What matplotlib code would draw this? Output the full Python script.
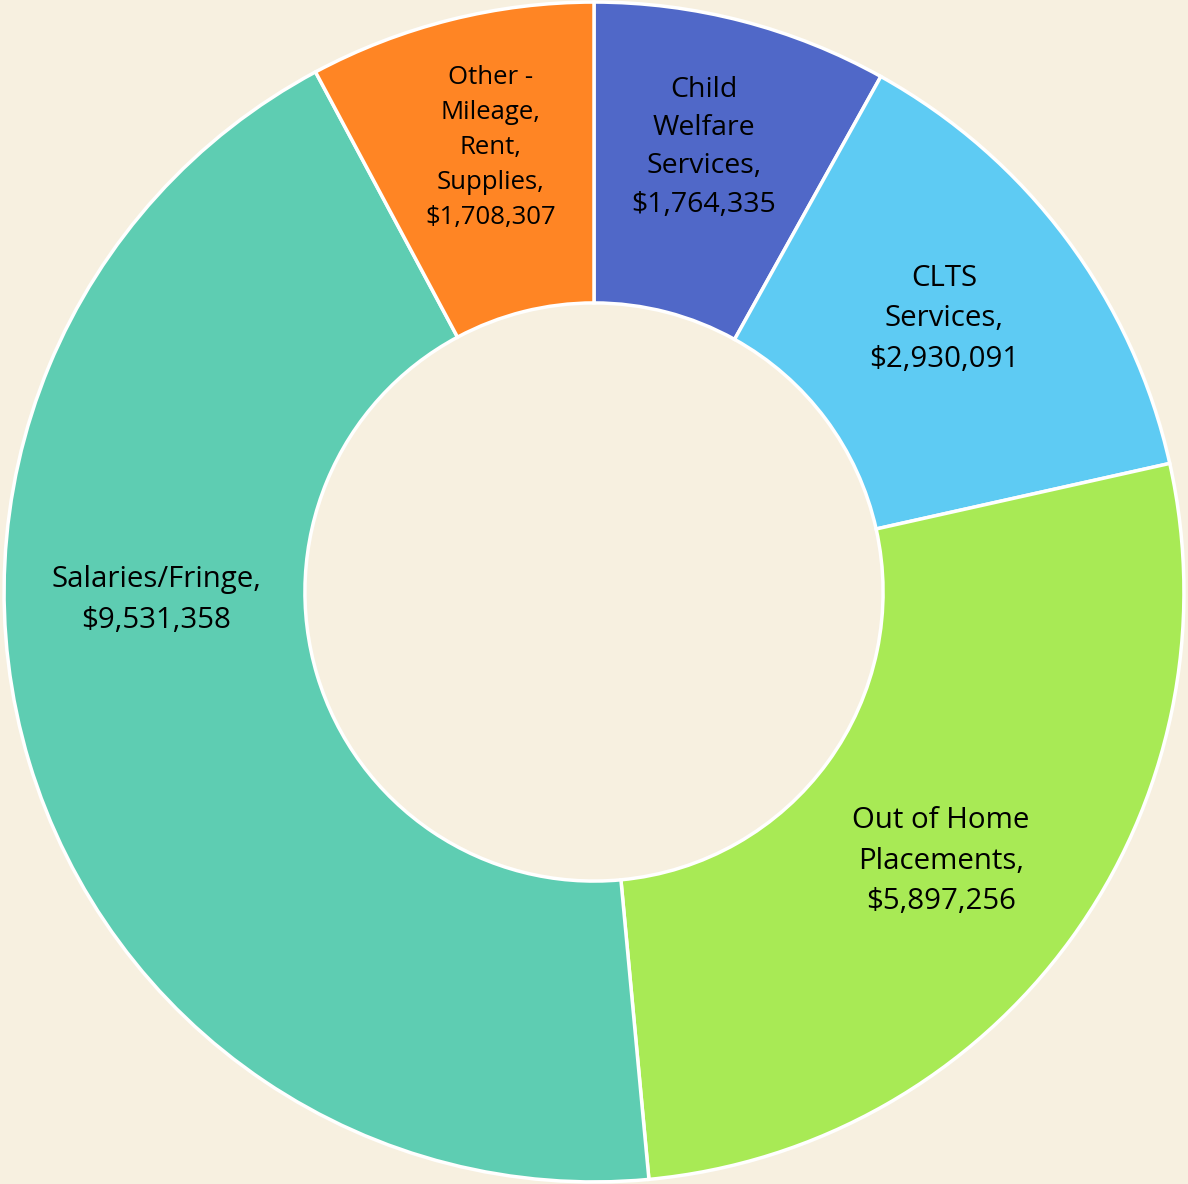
import matplotlib

matplotlib.use("Agg")
import matplotlib.pyplot as plt

categories = ["Child\nWelfare\nServices,", "CLTS\nServices,", "Out of Home\nPlacements,",
              "Salaries/Fringe,", "Other -\nMileage,\nRent,\nSupplies,"]
amounts = [1764335, 2930091, 5897256, 9531358, 1708307]
colors = ["#5068C8", "#5ECBF3", "#A8EA55", "#5ECDB2", "#FF8524"]

# label anchor points (fraction of outer radius), as placed in the original
label_x = [0.186, 0.593, 0.588, -0.742, -0.175]
label_y = [0.754, 0.463, -0.456, -0.014, 0.753]
font_sizes = [20.5, 21.2, 21.2, 21.2, 18.5]
line_gaps = [1.49, 1.53, 1.53, 1.53, 1.53]

bg = "#F7F0E0"
plt.rcParams["font.family"] = ["Open Sans", "DejaVu Sans"]

fig = plt.figure(figsize=(11.88, 11.84), dpi=100, facecolor=bg)
ax = fig.add_axes([0, 0, 1, 1])
ax.set_facecolor(bg)

ax.pie(
    amounts, colors=colors, startangle=90, counterclock=False,
    wedgeprops=dict(width=0.51, edgecolor="white", linewidth=2.5),
)
for cat, val, x, y, fs, ls in zip(categories, amounts, label_x, label_y, font_sizes, line_gaps):
    ax.text(x, y, f"{cat}\n${val:,}", ha="center", va="center",
            fontsize=fs, linespacing=ls, color="black")

ax.set_aspect("equal")
ax.set_xlim(-1.0035, 1.0035)
ax.set_ylim(-1.0035, 1.0035)

fig.savefig("out.png", facecolor=bg)
